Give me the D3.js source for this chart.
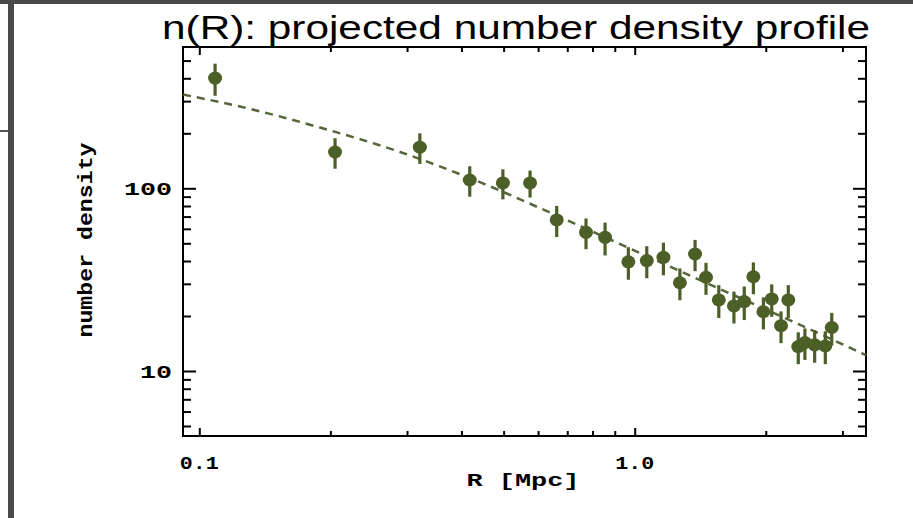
<!DOCTYPE html>
<html>
<head>
<meta charset="utf-8">
<script src="https://cdn.jsdelivr.net/npm/d3@7"></script>
<style>
  body { margin: 0; background: #fff; }
  svg { display: block; }
</style>
</head>
<body>
<div id="chart"></div>
<script>
// measured points: radius [Mpc], number density, 1-sigma error
const radius = [0.1087, 0.205, 0.321, 0.418, 0.498, 0.575, 0.662, 0.773, 0.855, 0.967,
  1.066, 1.164, 1.27, 1.376, 1.458, 1.56, 1.69, 1.785, 1.873, 1.975,
  2.064, 2.168, 2.253, 2.375, 2.46, 2.59, 2.74, 2.835]
const density = [401, 158, 168, 111, 107, 107, 67.1, 57.4, 53.9, 39.6,
  40.2, 41.9, 30.4, 43.7, 32.6, 24.5, 22.7, 24.0, 32.8, 21.1,
  24.8, 17.7, 24.5, 13.6, 14.3, 13.9, 13.7, 17.3]
const errors = [80, 30, 32, 21, 20, 18, 13, 11, 11, 8,
  8, 8.5, 6, 8.5, 6.5, 5, 4.5, 5, 6.5, 4.2,
  5, 3.5, 5, 2.7, 2.8, 2.8, 2.8, 3.5]

// dashed model curve
const fitR = [0.0918, 0.1307, 0.1893, 0.289, 0.441, 0.673, 1.029, 1.570, 2.397, 3.40]
const fitN = [326, 272, 215, 158, 108, 69.7, 44.2, 28.1, 17.9, 12.2]

// ticks
const xMajor = [0.1, 1.0]
const xMinor = [0.2, 0.3, 0.4, 0.5, 0.6, 0.7, 0.8, 0.9, 2, 3]
const yMajor = [10, 100]
const yMinor = [5, 6, 7, 8, 9, 20, 30, 40, 50, 60, 70, 80, 90, 200, 300, 400, 500]
const xLabels = ['0.1', '1.0']
const yLabels = ['10', '100']

const W = 913, H = 518
const frame = { left: 183, right: 866, top: 47, bottom: 436 }
const green = '#4b5f27'
const monoFont = "'Liberation Mono', 'DejaVu Sans Mono', monospace"

const svg = d3.select('#chart')
  .append('svg')
  .attr('width', W)
  .attr('height', H)

svg.append('rect').attr('width', W).attr('height', H).attr('fill', '#fff')

// window chrome bits around the picture
svg.append('rect').attr('x', 0).attr('y', 0).attr('width', W).attr('height', 4).attr('fill', '#4a4a4a')
svg.append('rect').attr('x', 8).attr('y', 0).attr('width', 6).attr('height', H).attr('fill', '#4a4a4a')
svg.append('rect').attr('x', 0).attr('y', 130).attr('width', 8).attr('height', 2).attr('fill', '#555')

const x = d3.scaleLog().domain([0.09174, 3.398]).range([frame.left, frame.right])
const y = d3.scaleLog().domain([4.408, 593.4]).range([frame.bottom, frame.top])

//////////////////////////////// AXES ////////////////////////////////
function ticks(axis, values, size) {
  return axis.tickValues(values).tickSize(-size).tickFormat('')
}
function drawAxis(gen, tx, ty) {
  const g = svg.append('g')
    .attr('transform', `translate(${tx},${ty})`)
    .call(gen)
  g.select('.domain').remove()
  g.selectAll('line').attr('stroke', '#000').attr('stroke-width', 2)
}

drawAxis(ticks(d3.axisBottom(x), xMajor, 8), 0, frame.bottom)
drawAxis(ticks(d3.axisBottom(x), xMinor, 5), 0, frame.bottom)
drawAxis(ticks(d3.axisTop(x), xMajor, 8), 0, frame.top)
drawAxis(ticks(d3.axisTop(x), xMinor, 5), 0, frame.top)
drawAxis(ticks(d3.axisLeft(y), yMajor, 13), frame.left, 0)
drawAxis(ticks(d3.axisLeft(y), yMinor, 8), frame.left, 0)
drawAxis(ticks(d3.axisRight(y), yMajor, 13), frame.right, 0)
drawAxis(ticks(d3.axisRight(y), yMinor, 8), frame.right, 0)

svg.append('rect')
  .attr('x', frame.left).attr('y', frame.top)
  .attr('width', frame.right - frame.left)
  .attr('height', frame.bottom - frame.top)
  .attr('fill', 'none')
  .attr('stroke', '#000')
  .attr('stroke-width', 2)

// tick labels (picture is stretched sideways, so fix the widths)
svg.selectAll('.xlab')
  .data(xMajor)
  .join('text')
  .attr('class', 'xlab')
  .attr('x', d => x(d))
  .attr('y', 469)
  .attr('text-anchor', 'middle')
  .attr('textLength', 39)
  .attr('lengthAdjust', 'spacingAndGlyphs')
  .style('font-family', monoFont)
  .style('font-weight', 'bold')
  .style('font-size', '18px')
  .text((d, i) => xLabels[i])

svg.selectAll('.ylab')
  .data(yMajor)
  .join('text')
  .attr('class', 'ylab')
  .attr('x', 172)
  .attr('y', d => y(d) + 7)
  .attr('text-anchor', 'end')
  .attr('textLength', (d, i) => yLabels[i].length * 16)
  .attr('lengthAdjust', 'spacingAndGlyphs')
  .style('font-family', monoFont)
  .style('font-weight', 'bold')
  .style('font-size', '18px')
  .text((d, i) => yLabels[i])

svg.append('text')
  .attr('x', 523)
  .attr('y', 486)
  .attr('text-anchor', 'middle')
  .attr('textLength', 113)
  .attr('lengthAdjust', 'spacingAndGlyphs')
  .style('font-family', monoFont)
  .style('font-weight', 'bold')
  .style('font-size', '18px')
  .text('R [Mpc]')

svg.append('text')
  .attr('transform', 'translate(92,240) rotate(-90)')
  .attr('text-anchor', 'middle')
  .attr('textLength', 195)
  .attr('lengthAdjust', 'spacingAndGlyphs')
  .style('font-family', monoFont)
  .style('font-weight', 'bold')
  .style('font-size', '21px')
  .text('number density')

// title
svg.append('text')
  .attr('x', 162)
  .attr('y', 39)
  .attr('textLength', 708)
  .attr('lengthAdjust', 'spacingAndGlyphs')
  .style('font-family', "'Liberation Sans', Arial, sans-serif")
  .style('font-size', '34px')
  .attr('fill', '#000')
  .text('n(R): projected number density profile')

//////////////////////////////// DATA ////////////////////////////////
const fit = fitR.map((r, i) => [r, fitN[i]])
const line = d3.line()
  .x(d => x(d[0]))
  .y(d => y(d[1]))
  .curve(d3.curveMonotoneX)

svg.append('path')
  .datum(fit)
  .attr('d', line)
  .attr('fill', 'none')
  .attr('stroke', '#56663a')
  .attr('stroke-width', 2.5)
  .attr('stroke-dasharray', '8,6')

const pts = radius.map((r, i) => ({ r, n: density[i], e: errors[i] }))

svg.append('g')
  .selectAll('line')
  .data(pts)
  .join('line')
  .attr('x1', d => x(d.r))
  .attr('x2', d => x(d.r))
  .attr('y1', d => y(d.n - d.e))
  .attr('y2', d => y(d.n + d.e))
  .attr('stroke', green)
  .attr('stroke-width', 3.2)

svg.append('g')
  .selectAll('ellipse')
  .data(pts)
  .join('ellipse')
  .attr('cx', d => x(d.r))
  .attr('cy', d => y(d.n))
  .attr('rx', 7)
  .attr('ry', 6.5)
  .attr('fill', green)
</script>
</body>
</html>
